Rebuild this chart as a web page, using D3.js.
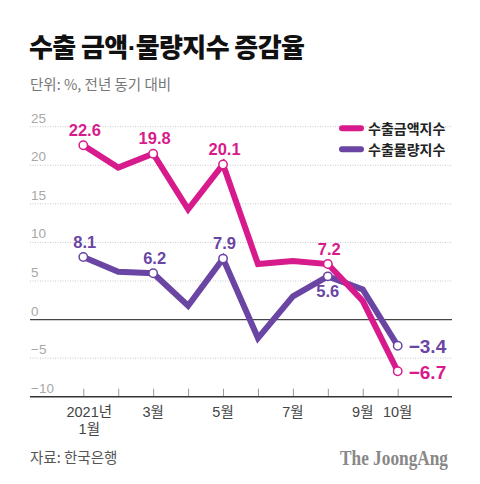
<!DOCTYPE html>
<html>
<head>
<meta charset="utf-8">
<script src="https://cdn.jsdelivr.net/npm/d3@7"></script>
<style>
  html, body { margin: 0; padding: 0; background: #fff; }
  svg { display: block; }
</style>
</head>
<body>
<svg id="chart" width="480" height="484"></svg>
<script>
// ---- data ----
const months = ["1월", "2월", "3월", "4월", "5월", "6월", "7월", "8월", "9월", "10월"];
const amountIndex = [22.6, 19.7, 21.5, 14.3, 20.1, 7.2, 7.6, 7.2, 2.4, -6.7];   // 수출금액지수
const volumeIndex = [8.1, 6.2, 6.0, 1.8, 7.9, -2.4, 3.0, 5.6, 3.9, -3.4];       // 수출물량지수
const amountLabels = ["22.6", null, "19.8", null, "20.1", null, null, "7.2", null, "−6.7"];
const volumeLabels = ["8.1", null, "6.2", null, "7.9", null, null, "5.6", null, "−3.4"];
const xTickLabels = [["2021년", "1월"], null, ["3월"], null, ["5월"], null, ["7월"], null, ["9월"], ["10월"]];
const yTicks = [25, 20, 15, 10, 5, 0, -5, -10];
const seriesNames = ["수출금액지수", "수출물량지수"];

const PINK = "#d81b8c", PURPLE = "#6a45a4";
const KR = "'Noto Sans CJK KR', 'Noto Sans', sans-serif";
const NUM = "'Liberation Sans', Arial, 'Noto Sans CJK KR', sans-serif";

const svg = d3.select("#chart");
svg.append("rect").attr("width", 480).attr("height", 484).attr("fill", "#fff");

// titles
const title = svg.append("text").attr("x", 29).attr("y", 57)
  .attr("font-family", KR).attr("font-weight", 900).attr("font-size", 26)
  .attr("letter-spacing", -0.6).attr("fill", "#111");
title.append("tspan").text("수출 금액");
title.append("tspan").attr("font-family", "'Liberation Sans', Arial, sans-serif").attr("font-weight", 700).text("·");
title.append("tspan").text("물량지수 증감율");
svg.append("text").attr("x", 30).attr("y", 90)
  .attr("font-family", KR).attr("font-size", 14.5).attr("fill", "#777")
  .text("단위: %, 전년 동기 대비");

// scales
const x = d3.scaleLinear().domain([0, months.length - 1]).range([83.3, 397.7]);
const y = d3.scaleLinear().domain([-10, 25]).range([396.7, 126.7]);
const x0 = 30, x1 = 452;

// gridlines
const g = svg.append("g");
g.selectAll("line.grid").data(yTicks.filter(v => v !== 0 && v !== -10)).join("line")
  .attr("x1", x0).attr("x2", x1).attr("y1", d => y(d)).attr("y2", d => y(d))
  .attr("stroke", "#c8c8c8").attr("stroke-width", 1).attr("stroke-dasharray", "1,1.5");

// y tick labels
g.selectAll("text.ytick").data(yTicks).join("text")
  .attr("x", 31).attr("y", d => y(d) - 4)
  .attr("font-family", NUM).attr("font-size", 13.5).attr("fill", "#a8a8a8")
  .text(d => d < 0 ? "−" + Math.abs(d) : d);

// zero line
g.append("line").attr("x1", x0).attr("x2", x1).attr("y1", y(0)).attr("y2", y(0))
  .attr("stroke", "#444").attr("stroke-width", 1.3);

// bottom axis
const xAxis = d3.axisBottom(x).tickValues(d3.range(months.length)).tickSize(-8).tickFormat("");
const ax = g.append("g").attr("transform", `translate(0,${y(-10)})`).call(xAxis);
ax.select(".domain").remove();
ax.selectAll(".tick line").attr("stroke", "#999").attr("stroke-width", 1);
g.append("line").attr("x1", x0).attr("x2", x1).attr("y1", y(-10)).attr("y2", y(-10))
  .attr("stroke", "#333").attr("stroke-width", 1.5);

// x labels
xTickLabels.forEach((lab, i) => {
  if (!lab) return;
  const cx = x(i) + (i === 0 ? 6 : 0);
  const t = g.append("text").attr("x", cx).attr("y", 417)
    .attr("text-anchor", "middle").attr("font-family", NUM)
    .attr("font-size", 14.5).attr("fill", "#444");
  lab.forEach((s, k) => t.append("tspan").attr("x", cx).attr("dy", k === 0 ? 0 : 17).text(s));
});

// lines
const line = d3.line().x((d, i) => x(i)).y(d => y(d)).curve(d3.curveLinear);
const series = [
  { vals: volumeIndex, labs: volumeLabels, color: PURPLE, key: "v" },
  { vals: amountIndex, labs: amountLabels, color: PINK, key: "a" }
];
series.forEach(s => {
  svg.append("path").datum(s.vals).attr("d", line)
    .attr("fill", "none").attr("stroke", s.color).attr("stroke-width", 6)
    .attr("stroke-linejoin", "miter").attr("stroke-miterlimit", 3);
});
series.forEach(s => {
  svg.selectAll("circle." + s.key).data(s.vals.map((v, i) => ({ v, i, lab: s.labs[i] })).filter(d => d.lab))
    .join("circle").attr("class", s.key)
    .attr("cx", d => x(d.i)).attr("cy", d => y(d.v)).attr("r", 4.2)
    .attr("fill", "#fff").attr("stroke", s.color).attr("stroke-width", 1.5);
});

// value labels
series.forEach(s => {
  const last = s.vals.length - 1;
  s.vals.forEach((v, i) => {
    const lab = s.labs[i];
    if (!lab) return;
    const t = svg.append("text").attr("font-family", NUM).attr("font-weight", 700).attr("fill", s.color);
    if (i === last) {
      t.attr("x", x(i) + 11).attr("y", y(v) + 7.5).attr("font-size", 19).attr("text-anchor", "start");
    } else if (s.key === "v" && i === 7) {
      t.attr("x", x(i)).attr("y", y(v) + 21).attr("font-size", 16.5).attr("text-anchor", "middle");
    } else {
      t.attr("x", x(i) + 1.5).attr("y", y(v) - 9.5).attr("font-size", 16.5).attr("text-anchor", "middle");
    }
    t.text(lab);
  });
});

// legend
const legend = svg.append("g");
[PINK, PURPLE].forEach((c, k) => {
  const ly = 128.3 + k * 21;
  legend.append("line").attr("x1", 342).attr("x2", 361).attr("y1", ly).attr("y2", ly)
    .attr("stroke", c).attr("stroke-width", 6).attr("stroke-linecap", "round");
  legend.append("text").attr("x", 368).attr("y", ly + 5.4)
    .attr("font-family", KR).attr("font-weight", 700).attr("font-size", 14)
    .attr("fill", "#222").text(seriesNames[k]);
});

// footer
svg.append("text").attr("x", 30).attr("y", 463)
  .attr("font-family", KR).attr("font-size", 14.5).attr("fill", "#555")
  .text("자료: 한국은행");
svg.append("text").attr("x", 448).attr("y", 465).attr("text-anchor", "end")
  .attr("font-family", "'Liberation Serif', 'DejaVu Serif', serif").attr("font-weight", 700)
  .attr("font-size", 20).attr("fill", "#888")
  .attr("textLength", 108).attr("lengthAdjust", "spacingAndGlyphs")
  .text("The JoongAng");
</script>
</body>
</html>
